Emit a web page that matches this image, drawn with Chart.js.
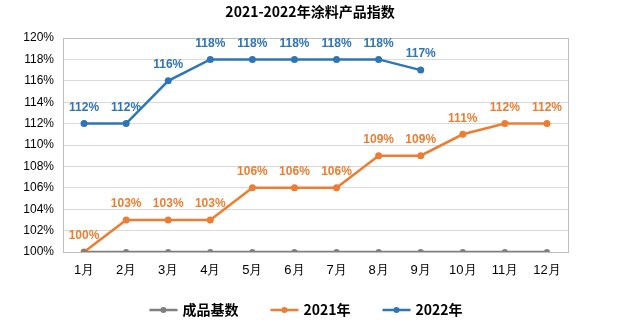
<!DOCTYPE html>
<html><head><meta charset="utf-8">
<script src="https://cdn.jsdelivr.net/npm/chart.js@4"></script>
<style>html,body{margin:0;padding:0;background:#fff}#c{display:block}</style>
</head><body>
<canvas id="c" width="618" height="326"></canvas>
<script>
const categories = ['1月','2月','3月','4月','5月','6月','7月','8月','9月','10月','11月','12月'];
const baseValues = [100,100,100,100,100,100,100,100,100,100,100,100];
const values2021 = [100,103,103,103,106,106,106,109,109,111,112,112];
const values2022 = [112,112,116,118,118,118,118,118,117];
const yTicks = [100,102,104,106,108,110,112,114,116,118,120];
const titleText = '2021-2022年涂料产品指数';
const seriesNames = ['成品基数','2021年','2022年'];
const colors = ['#7f7f7f','#ed7d31','#2e75b6'];

const labelPlugin={id:'lbl',afterDatasetsDraw(chart){
  const ctx=chart.ctx;ctx.save();
  ctx.font='bold 12px "Liberation Sans", Arial, sans-serif';
  ctx.textAlign='center';ctx.textBaseline='middle';
  chart.data.datasets.forEach((ds,i)=>{
    if(!ds.showLabels)return;
    const meta=chart.getDatasetMeta(i);
    ctx.fillStyle=ds.borderColor;
    meta.data.forEach((p,j)=>{ctx.fillText(ds.data[j]+'%',p.x,p.y-16);});
  });
  ctx.restore();
}};
const decorPlugin={id:'decor',
 beforeDatasetsDraw(chart){
  const a=chart.chartArea,ctx=chart.ctx;ctx.save();
  ctx.strokeStyle='#bfbfbf';ctx.lineWidth=1;
  ctx.strokeRect(Math.round(a.left)+0.5,Math.round(a.top)+0.5,Math.round(a.right-a.left),Math.round(a.bottom-a.top));
  ctx.restore();
 },
 afterDraw(chart){
  const ctx=chart.ctx;ctx.save();
  // title
  ctx.fillStyle='#000';ctx.textAlign='center';ctx.textBaseline='middle';
  ctx.font='bold 14px "Noto Sans CJK SC", sans-serif';
  ctx.fillText(titleText,310,12);
  // legend
  ctx.font='bold 14px "Noto Sans CJK SC", sans-serif';
  const mw=28,g1=5,g2=32;
  const widths=seriesNames.map(t=>ctx.measureText(t).width);
  const total=widths.reduce((s,w)=>s+mw+g1+w,0)+g2*(seriesNames.length-1);
  let x=306-total/2;const y=310;
  ctx.textAlign='left';
  seriesNames.forEach((t,i)=>{
    ctx.strokeStyle=colors[i];ctx.lineWidth=2.5;
    ctx.beginPath();ctx.moveTo(x,y);ctx.lineTo(x+mw,y);ctx.stroke();
    ctx.fillStyle=colors[i];ctx.beginPath();ctx.arc(x+mw/2,y,3,0,Math.PI*2);ctx.fill();
    ctx.fillStyle='#000';ctx.fillText(t,x+mw+g1,y);
    x+=mw+g1+widths[i]+g2;
  });
  ctx.restore();
}};

new Chart(document.getElementById('c'),{
  type:'line',
  data:{labels:categories,datasets:[
    {label:seriesNames[0],data:baseValues,borderColor:colors[0],backgroundColor:colors[0],borderWidth:2.5,pointRadius:3,pointBackgroundColor:colors[0],pointBorderWidth:0,showLabels:false},
    {label:seriesNames[1],data:values2021,borderColor:colors[1],backgroundColor:colors[1],borderWidth:2.5,pointRadius:3.5,pointBackgroundColor:colors[1],pointBorderWidth:0,showLabels:true},
    {label:seriesNames[2],data:values2022,borderColor:colors[2],backgroundColor:colors[2],borderWidth:2.5,pointRadius:3.5,pointBackgroundColor:colors[2],pointBorderWidth:0,showLabels:true}
  ]},
  options:{
    responsive:false,animation:false,
    layout:{padding:{left:4,right:50,top:38,bottom:40}},
    plugins:{title:{display:false},legend:{display:false},tooltip:{enabled:false}},
    scales:{
      x:{offset:true,grid:{display:false},border:{display:false},afterFit(s){s.height=34;},
        ticks:{color:'#000',font:{family:'"Liberation Sans", Arial, sans-serif',size:13},padding:3,maxRotation:0}},
      y:{min:100,max:120,afterBuildTicks(s){s.ticks=yTicks.map(v=>({value:v}));},afterFit(s){s.width=59;},
        grid:{color:'#d9d9d9',drawTicks:false},border:{display:false},
        ticks:{color:'#000',font:{family:'"Liberation Sans", Arial, sans-serif',size:12},padding:9,callback:v=>v+'%'}}
    }
  },
  plugins:[labelPlugin,decorPlugin]
});
</script>
</body></html>
